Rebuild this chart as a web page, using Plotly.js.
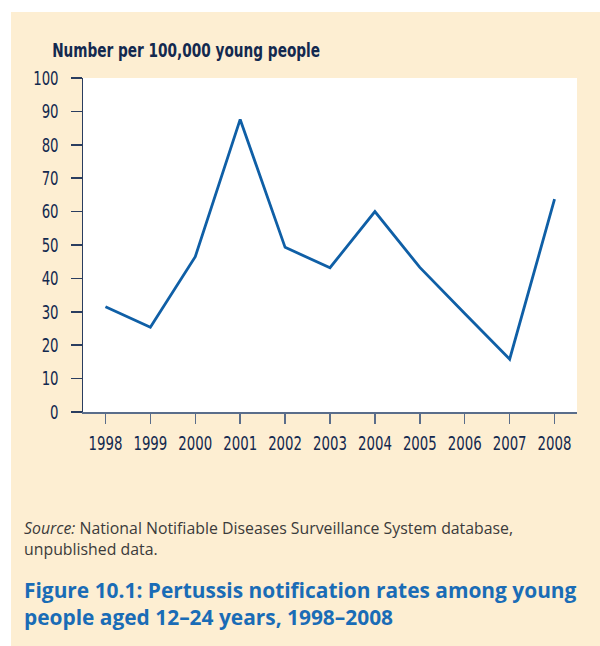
<!DOCTYPE html>
<html>
<head>
<meta charset="utf-8">
<script src="https://cdn.plot.ly/plotly-3.0.1.min.js"></script>
<style>
html,body{margin:0;padding:0;background:#ffffff;width:600px;height:646px;overflow:hidden;}
#bg{position:absolute;left:11px;top:12px;width:589px;height:634px;background:#fdeed2;}
#chart{position:absolute;left:0;top:0;width:600px;height:646px;}
</style>
</head>
<body>
<div id="bg"></div>
<div id="chart"></div>
<script>
var years = [1998, 1999, 2000, 2001, 2002, 2003, 2004, 2005, 2006, 2007, 2008];
var rates = [31.5, 25.4, 46.5, 87.6, 49.3, 43.2, 60.0, 43.3, 29.5, 15.8, 63.7];
var yTicks = [0, 10, 20, 30, 40, 50, 60, 70, 80, 90, 100];

var yTitle = 'Number per 100,000 young people';
var sourceLine1 = '<i>Source:</i> National Notifiable Diseases Surveillance System database,';
var sourceLine2 = 'unpublished data.';
var figLine1 = 'Figure 10.1: Pertussis notification rates among young';
var figLine2 = 'people aged 12\u201324 years, 1998\u20132008';

var narrow = '"DejaVu Sans Condensed", "DejaVu Sans", sans-serif';
var navy = '#13294f';

var L = 83, R = 577, T = 78, B = 412, W = 600, H = 646;
function px(x){ return (x - L) / (R - L); }
function py(y){ return (B - y) / (B - T); }

var trace = {
  x: years, y: rates, type: 'scatter', mode: 'lines',
  line: {color: '#0f5fa6', width: 2.8},
  hoverinfo: 'skip'
};

var layout = {
  width: W, height: H,
  margin: {l: L, r: W - R, t: T, b: H - B, pad: 0},
  paper_bgcolor: 'rgba(0,0,0,0)',
  plot_bgcolor: '#ffffff',
  showlegend: false,
  xaxis: {
    range: [1997.5, 2008.5],
    tickvals: years,
    ticktext: years.map(String),
    tickangle: 0,
    ticks: 'outside', ticklen: 10, tickwidth: 1.5, tickcolor: '#5a6d8a',
    showline: true, linecolor: '#5a6d8a', linewidth: 1.5,
    showgrid: false, zeroline: false,
    tickfont: {family: narrow, size: 19.5, color: navy},
    ticklabelstandoff: 3
  },
  yaxis: {
    range: [0, 100],
    tickvals: yTicks,
    ticks: 'outside', ticklen: 11, tickwidth: 1.5, tickcolor: '#2a3d60',
    showline: true, linecolor: '#2a3d60', linewidth: 1.5,
    showgrid: false, zeroline: false,
    tickfont: {family: narrow, size: 19.5, color: navy},
    ticklabelstandoff: 8
  },
  annotations: [
    {text: '<b>' + yTitle + '</b>', xref: 'paper', yref: 'paper', x: px(50), y: py(50),
     xanchor: 'left', yanchor: 'middle', showarrow: false,
     font: {family: narrow, size: 19, color: navy}},
    {text: sourceLine1, xref: 'paper', yref: 'paper', x: px(22), y: py(528),
     xanchor: 'left', yanchor: 'middle', showarrow: false, align: 'left',
     font: {family: '"Open Sans", sans-serif', size: 15.85, color: '#3b3b3b'}},
    {text: sourceLine2, xref: 'paper', yref: 'paper', x: px(22), y: py(549),
     xanchor: 'left', yanchor: 'middle', showarrow: false, align: 'left',
     font: {family: '"Open Sans", sans-serif', size: 15.85, color: '#3b3b3b'}},
    {text: '<b>' + figLine1 + '</b>', xref: 'paper', yref: 'paper', x: px(22), y: py(590),
     xanchor: 'left', yanchor: 'middle', showarrow: false, align: 'left',
     font: {family: '"Open Sans", sans-serif', size: 20.9, color: '#1a6cb6'}},
    {text: '<b>' + figLine2 + '</b>', xref: 'paper', yref: 'paper', x: px(22), y: py(617),
     xanchor: 'left', yanchor: 'middle', showarrow: false, align: 'left',
     font: {family: '"Open Sans", sans-serif', size: 20.9, color: '#1a6cb6'}}
  ]
};

function squeeze(el, s, anchor) {
  var bb = el.getBBox();
  var cx = anchor === 'left' ? bb.x : (anchor === 'right' ? bb.x + bb.width : bb.x + bb.width / 2);
  var t = el.getAttribute('transform') || '';
  el.setAttribute('transform', t + ' translate(' + cx + ',0) scale(' + s + ',1) translate(' + (-cx) + ',0)');
}

Plotly.newPlot('chart', [trace], layout, {displayModeBar: false, staticPlot: true}).then(function (gd) {
  gd.querySelectorAll('g.xtick text').forEach(function (el) { squeeze(el, 0.76, 'center'); });
  gd.querySelectorAll('g.ytick text').forEach(function (el) { squeeze(el, 0.76, 'right'); });
  var ann = gd.querySelectorAll('g.annotation text.annotation-text');
  if (ann.length) squeeze(ann[0], 0.80, 'left');
});
</script>
</body>
</html>
